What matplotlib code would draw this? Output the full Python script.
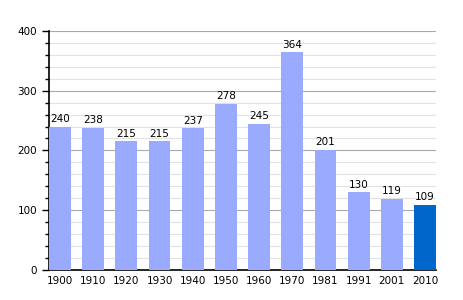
import matplotlib
matplotlib.use("Agg")
import matplotlib.pyplot as plt
import numpy as np

years = ["1900", "1910", "1920", "1930", "1940", "1950", "1960", "1970", "1981", "1991", "2001", "2010"]
population = [240, 238, 215, 215, 237, 278, 245, 364, 201, 130, 119, 109]

fig = plt.figure(figsize=(4.64, 3.0), dpi=100)
ax = fig.add_axes([0.1056, 0.1, 0.834, 0.797])

x = np.arange(len(years))
colors = ["#99aaff"] * (len(years) - 1) + ["#0066cc"]
ax.bar(x, population, width=0.66, color=colors, zorder=3)

for xi, v in zip(x, population):
    ax.text(xi, v + 4, str(v), ha="center", va="bottom", fontsize=7.5, zorder=4)

ax.set_xlim(-0.33, len(years) - 0.67)
ax.set_ylim(0, 400)
ax.set_yticks([0, 100, 200, 300, 400])
ax.set_yticks(np.arange(0, 401, 20), minor=True)
ax.set_xticks(x)
ax.set_xticklabels(years)
ax.tick_params(axis="both", labelsize=7.5)
ax.tick_params(axis="x", length=0, pad=4)
ax.tick_params(axis="y", which="major", length=5, width=1, direction="out")
ax.tick_params(axis="y", which="minor", length=3, width=1, direction="out")

ax.grid(axis="y", which="minor", color="#e2e2e2", linewidth=0.8, zorder=0)
ax.grid(axis="y", which="major", color="#aaaaaa", linewidth=0.8, zorder=1)

for side in ["top", "right"]:
    ax.spines[side].set_visible(False)
ax.spines["left"].set_linewidth(1.2)
ax.spines["bottom"].set_linewidth(1.2)

fig.savefig("out.png", dpi=100)
